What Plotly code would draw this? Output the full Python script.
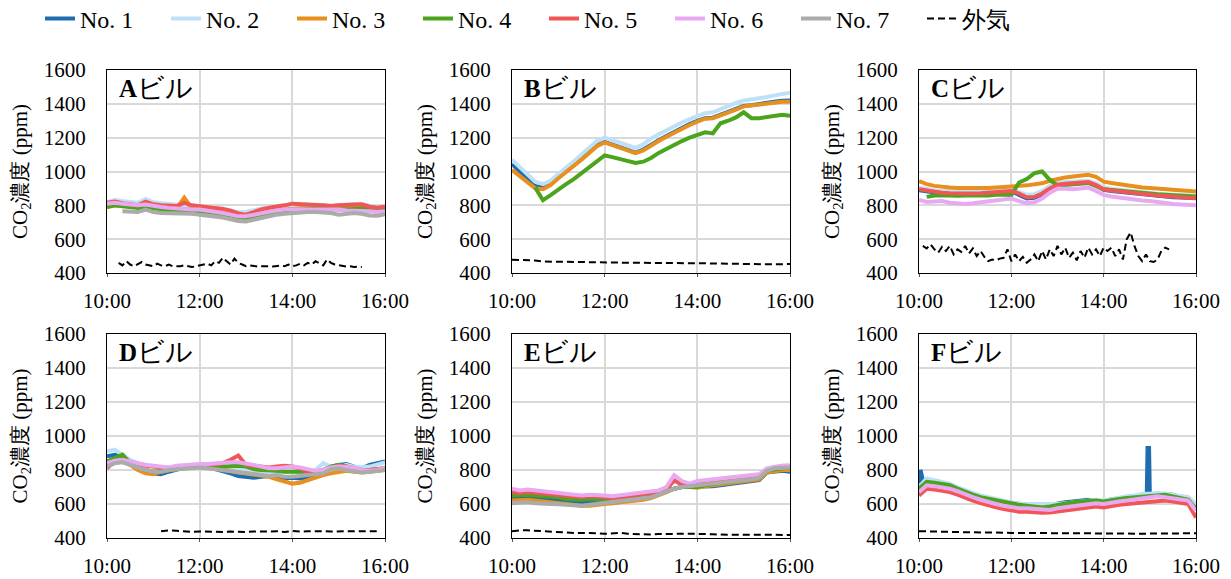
import plotly.graph_objects as go

# ---------------- categories / labels ----------------
PANELS = ["A", "B", "C", "D", "E", "F"]
SERIES = ["No. 1", "No. 2", "No. 3", "No. 4", "No. 5", "No. 6", "No. 7"]
OUTDOOR = "外気"
X_TICKS = ["10:00", "12:00", "14:00", "16:00"]
Y_TICKS = [400, 600, 800, 1000, 1200, 1400, 1600]
COLORS = ["#1f6db0", "#bfe1f7", "#e8901e", "#4aa51c", "#f05656", "#e9a8f2", "#ababab"]

# 10-minute time grid 10:00 .. 16:00 (37 points)
T10 = ["%d:%02d" % (10 + (i * 10) // 60, (i * 10) % 60) for i in range(37)]

# ---------------- Panel A ----------------
A_NO1 = [800, 805, 800, 795, 790, 800, 790, 785, 780, 780, 780, 778, 775, 770, 765, 758, 748, 738, 735, 742,
         752, 762, 768, 772, 778, 782, 782, 785, 785, 782, 782, 785, 790, 790, 785, 780, 785]
A_NO2 = [820, 832, 826, 820, 816, 838, 818, 812, 808, 804, 802, 798, 796, 790, 786, 780, 770, 760, 762, 772,
         782, 790, 795, 800, 805, 805, 805, 800, 800, 798, 802, 805, 808, 806, 795, 790, 792]
A_NO3 = [790, 800, 798, 792, 790, 795, 788, 785, 782, 780, 845, 782, 778, 772, 768, 762, 752, 742, 738, 745,
         755, 765, 770, 775, 780, 782, 782, 785, 785, 780, 790, 795, 785, 790, 780, 775, 780]
A_NO4 = [790, 800, 795, 790, 785, 790, 780, 775, 770, 770, 770, 770, 765, 760, 755, 750, 740, 730, 725, 735,
         745, 755, 760, 765, 770, 775, 775, 780, 780, 775, 775, 775, 780, 780, 775, 770, 775]
A_NO5 = [815, 822, 812, 806, 800, 822, 806, 800, 800, 796, 815, 800, 795, 790, 785, 778, 768, 752, 745, 762,
         776, 786, 792, 800, 810, 806, 806, 802, 800, 796, 800, 802, 808, 806, 792, 786, 792]
A_NO6 = [810, 815, 810, 805, 800, 805, 795, 790, 785, 780, 780, 775, 775, 770, 765, 755, 745, 735, 735, 745,
         755, 765, 770, 775, 775, 780, 780, 780, 780, 775, 775, 770, 770, 770, 765, 760, 765]
A_NO7 = [None, None, 765, 760, 760, 775, 760, 755, 755, 750, 750, 750, 745, 740, 735, 728, 718, 708, 705, 715,
         728, 738, 745, 750, 755, 755, 760, 760, 760, 755, 745, 750, 755, 750, 740, 738, 748]
A_OUT_START = "10:15"   # 5-minute readings
A_OUT = [460, 445, 470, 450, 440, 455, 465, 450, 445, 440, 455, 445, 440, 450, 440, 438, 440, 445, 440, 435,
         440, 445, 450, 455, 445, 470, 460, 490, 470, 450, 485, 460, 450, 440, 445, 440, 438, 440, 442, 440,
         438, 440, 445, 440, 450, 440, 445, 455, 445, 460, 450, 470, 455, 445, 480, 460, 450, 445, 440, 438,
         440, 436, 438, 435]

# ---------------- Panel B ----------------
B_NO1 = [1045, 1000, 955, 915, 905, 930, 965, 1000, 1040, 1078, 1118, 1155, 1175, 1160, 1145, 1130, 1112, 1130,
         1160, 1185, 1210, 1235, 1260, 1280, 1300, 1315, 1318, 1335, 1355, 1370, 1388, 1392, 1400, 1405, 1412,
         1418, 1420]
B_NO2 = [1070, 1025, 980, 940, 925, 945, 985, 1020, 1060, 1100, 1140, 1180, 1200, 1182, 1170, 1155, 1140, 1160,
         1195, 1220, 1245, 1270, 1290, 1310, 1330, 1345, 1350, 1370, 1390, 1405, 1420, 1425, 1435, 1440, 1450,
         1458, 1465]
B_NO3 = [1010, 975, 935, 900, 895, 920, 960, 995, 1030, 1070, 1110, 1150, 1172, 1155, 1140, 1125, 1108, 1125,
         1155, 1180, 1205, 1230, 1255, 1275, 1295, 1312, 1315, 1330, 1350, 1365, 1385, 1390, 1395, 1400, 1410,
         1412, 1412]
B_NO4 = [None, None, None, 905, 830, 860, 895, 925, 955, 990, 1025, 1060, 1095, 1085, 1075, 1062, 1050, 1058,
         1080, 1110, 1135, 1160, 1180, 1200, 1215, 1232, 1225, 1285, 1300, 1320, 1350, 1315, 1315, 1320, 1325,
         1335, 1330]
B_OUT = [478, 478, 476, 474, 468, 467, 466, 465, 464, 464, 463, 462, 462, 461, 461, 460, 460, 460, 459, 459,
         459, 458, 458, 458, 458, 457, 457, 456, 455, 455, 454, 453, 452, 451, 451, 452, 453]

# ---------------- Panel C ----------------
C_NO1 = [890, 882, 875, 870, 868, 866, 866, 866, 868, 872, 875, 880, 882, 862, 840, 845, 865, 895, 918, 925,
         930, 932, 935, 918, 892, 885, 880, 873, 868, 864, 860, 856, 852, 848, 846, 844, 842]
C_NO2 = [905, 895, 888, 884, 882, 880, 880, 880, 882, 885, 888, 892, 895, 880, 862, 865, 885, 915, 935, 938,
         940, 942, 945, 930, 905, 898, 892, 886, 880, 876, 872, 868, 865, 862, 860, 858, 856]
C_NO3 = [943, 925, 915, 908, 905, 903, 902, 900, 900, 902, 905, 910, 913, 915, 918, 922, 930, 945, 958, 965,
         970, 975, 980, 968, 940, 932, 925, 918, 910, 905, 902, 898, 895, 890, 888, 885, 882]
C_NO4 = [None, 850, 858, 860, 856, 856, 858, 858, 856, 858, 862, 864, 860, 935, 955, 990, 1000, 950, 918, 920,
         925, 928, 932, 915, 895, 890, 885, 880, 875, 872, 868, 865, 862, 860, 858, 855, 852]
C_NO5 = [895, 888, 880, 875, 872, 870, 870, 870, 872, 875, 878, 882, 885, 870, 848, 850, 870, 900, 922, 928,
         932, 935, 938, 920, 895, 888, 882, 876, 870, 866, 862, 858, 855, 850, 848, 845, 843]
C_NO6 = [832, 820, 822, 825, 815, 810, 808, 812, 818, 822, 828, 836, 840, 825, 812, 818, 840, 875, 900, 898,
         895, 900, 905, 885, 862, 852, 845, 838, 832, 828, 825, 818, 812, 808, 805, 802, 800]
C_OUT_START = "10:05"   # 5-minute readings
C_OUT = [560, 545, 570, 540, 520, 555, 530, 560, 510, 540, 525, 560, 515, 545, 500, 530, 495, 470, 480, 475,
         485, 490, 540, 470, 510, 470, 495, 460, 480, 510, 470, 530, 480, 540, 500, 560, 510, 550, 490, 520,
         475, 530, 490, 550, 510, 540, 500, 550, 530, 550, 500, 540, 480, 600, 640, 560, 500, 470, 510, 470,
         465, 480, 530, 550, 540]

# ---------------- Panel D ----------------
D_NO1 = [880, 890, 880, 840, 810, 790, 780, 775, 790, 805, 815, 820, 820, 815, 805, 795, 780, 765, 760, 755,
         760, 765, 760, 750, 755, 750, 755, 765, 800, 820, 830, 835, 820, 810, 830, 840, 850]
D_NO2 = [910, 920, 890, 860, 840, 830, 820, 815, 815, 820, 825, 825, 825, 825, 820, 815, 815, 810, 800, 790,
         790, 790, 790, 785, 785, 790, 795, 800, 840, 820, 815, 830, 820, 815, 820, 830, 845]
D_NO3 = [830, 850, 860, 830, 800, 780, 775, 790, 800, 805, 815, 820, 820, 815, 810, 800, 790, 785, 780, 775,
         770, 760, 745, 730, 720, 725, 740, 760, 770, 780, 790, 795, 790, 785, 790, 795, 800]
D_NO4 = [850, 870, 890, 840, 820, 800, 790, 795, 800, 810, 815, 820, 820, 820, 815, 820, 825, 825, 820, 805,
         800, 800, 795, 790, 790, 785, 785, 790, 800, 820, 830, 820, 805, 800, 800, 805, 810]
D_NO5 = [810, 850, 860, 845, 830, 825, 820, 815, 810, 815, 820, 830, 830, 830, 835, 840, 860, 885, 830, 825,
         820, 815, 820, 825, 820, 810, 790, 785, 790, 810, 825, 820, 810, 800, 800, 805, 810]
D_NO6 = [840, 855, 860, 850, 835, 830, 825, 820, 815, 825, 830, 835, 835, 835, 840, 845, 845, 845, 840, 830,
         820, 810, 810, 815, 820, 815, 805, 795, 800, 815, 820, 820, 815, 800, 795, 800, 810]
D_NO7 = [820, 840, 845, 830, 810, 800, 790, 790, 800, 805, 810, 815, 815, 810, 805, 800, 795, 790, 785, 775,
         770, 765, 770, 760, 760, 765, 770, 775, 780, 805, 810, 800, 790, 785, 790, 795, 800]
D_OUT_START = "11:10"   # 10-minute readings
D_OUT = [440, 445, 442, 438, 436, 438, 436, 435, 436, 438, 436, 435, 438, 436, 438, 440, 435, 442, 438, 440,
         442, 440, 438, 440, 438, 440, 440, 440, 440]

# ---------------- Panel E ----------------
E_NO1 = [635, 640, 645, 640, 635, 630, 625, 615, 610, 610, 615, 615, 610, 605, 615, 625, 630, 635, 640, 655,
         675, 690, 700, 700, 700, 705, 705, 710, 715, 720, 725, 730, 740, 785, 790, 795, 790]
E_NO2 = [675, 670, 675, 670, 665, 665, 660, 650, 645, 645, 650, 650, 645, 640, 645, 650, 655, 660, 665, 675,
         690, 735, 710, 705, 715, 725, 730, 735, 740, 745, 750, 755, 765, 805, 820, 825, 830]
E_NO3 = [620, 625, 625, 620, 615, 610, 600, 595, 590, 590, 590, 595, 595, 600, 605, 610, 615, 625, 635, 650,
         670, 690, 700, 700, 695, 705, 710, 715, 720, 725, 730, 735, 745, 785, 795, 800, 800]
E_NO4 = [650, 655, 655, 650, 648, 645, 640, 630, 625, 625, 630, 630, 625, 620, 625, 630, 635, 640, 645, 660,
         680, 690, 700, 700, 700, 710, 720, 725, 730, 735, 740, 745, 755, 795, 805, 810, 815]
E_NO5 = [670, 665, 670, 665, 660, 660, 655, 645, 640, 640, 645, 645, 640, 635, 640, 645, 650, 655, 660, 670,
         685, 740, 715, 705, 715, 725, 730, 735, 740, 745, 750, 755, 760, 800, 815, 820, 820]
E_NO6 = [690, 680, 685, 680, 675, 670, 665, 655, 650, 650, 655, 655, 650, 645, 650, 655, 660, 665, 670, 680,
         700, 770, 735, 720, 735, 740, 745, 745, 750, 755, 760, 765, 775, 810, 820, 825, 825]
E_NO7 = [605, 610, 610, 605, 605, 600, 598, 595, 590, 590, 595, 600, 605, 610, 615, 620, 625, 630, 640, 655,
         675, 690, 700, 705, 705, 715, 720, 725, 730, 735, 740, 745, 755, 795, 810, 815, 815]
E_OUT = [440, 445, 445, 442, 440, 438, 435, 432, 430, 430, 430, 428, 425, 428, 430, 425, 423, 422, 420, 423,
         425, 425, 425, 425, 425, 422, 422, 420, 420, 420, 420, 420, 418, 418, 418, 418, 418]

# ---------------- Panel F ----------------
F_NO1_T = ["10:00", "10:02", "10:05", "10:10", "10:20", "10:30", "10:40", "10:50", "11:00", "11:10", "11:20",
           "11:30", "11:40", "11:50", "12:00", "12:10", "12:20", "12:30", "12:40", "12:50", "13:00", "13:10",
           "13:20", "13:30", "13:40", "13:50", "14:00", "14:10", "14:20", "14:30", "14:40", "14:50", "14:56",
           "14:57", "14:59", "15:00", "15:10", "15:20", "15:30", "15:40", "15:50", "16:00"]
F_NO1 = [720, 800, 740, 740, 735, 725, 705, 685, 668, 652, 640, 628, 618, 610, 605, 600, 598, 595, 590, 595,
         605, 610, 615, 620, 625, 615, 615, 628, 632, 638, 642, 648, 650, 930, 930, 660, 658, 660, 655, 640,
         630, 570]
F_NO2 = [700, 750, 740, 730, 720, 700, 680, 665, 650, 640, 625, 615, 605, 600, 600, 600, 595, 595, 600, 605,
         610, 615, 620, 625, 620, 630, 640, 645, 650, 660, 660, 665, 660, 655, 650, 640, 600]
F_NO3 = [680, 720, 715, 710, 700, 685, 665, 650, 635, 620, 610, 600, 590, 585, 585, 580, 575, 575, 585, 595,
         600, 605, 610, 615, 610, 620, 625, 630, 635, 640, 645, 648, 648, 640, 630, 625, 565]
F_NO4 = [690, 730, 725, 720, 710, 690, 670, 655, 640, 630, 620, 610, 600, 595, 590, 585, 580, 585, 595, 605,
         610, 615, 620, 620, 615, 625, 630, 635, 640, 645, 650, 655, 655, 645, 635, 625, 570]
F_NO5 = [650, 690, 685, 680, 670, 655, 635, 620, 605, 590, 580, 570, 560, 555, 555, 550, 548, 550, 555, 560,
         570, 575, 580, 585, 580, 590, 595, 600, 605, 610, 615, 620, 620, 615, 605, 600, 520]
F_NO6 = [670, 710, 705, 700, 690, 675, 655, 640, 625, 610, 600, 590, 580, 575, 575, 570, 565, 565, 575, 580,
         590, 595, 600, 605, 600, 610, 615, 620, 625, 630, 635, 645, 640, 635, 625, 620, 560]
F_OUT = [440, 440, 438, 438, 436, 435, 435, 434, 432, 432, 432, 431, 430, 430, 430, 430, 429, 429, 428, 428,
         428, 428, 428, 428, 428, 427, 427, 426, 425, 425, 424, 424, 424, 425, 425, 426, 428]


# ---------------- helpers ----------------
def hrs(t):
    h, m = t.split(":")
    return int(h) + int(m) / 60.0


def times_from(start, step_min, n):
    s = hrs(start)
    return [s + i * step_min / 60.0 for i in range(n)]


X10 = [hrs(t) for t in T10]

# table built from the named arrays: panel -> list of (series index, x, y)
TABLE = {
    "A": [(0, X10, A_NO1), (1, X10, A_NO2), (2, X10, A_NO3), (3, X10, A_NO4), (4, X10, A_NO5),
          (5, X10, A_NO6), (6, X10, A_NO7), (7, times_from(A_OUT_START, 5, len(A_OUT)), A_OUT)],
    "B": [(0, X10, B_NO1), (1, X10, B_NO2), (2, X10, B_NO3), (3, X10, B_NO4), (7, X10, B_OUT)],
    "C": [(0, X10, C_NO1), (1, X10, C_NO2), (2, X10, C_NO3), (3, X10, C_NO4), (4, X10, C_NO5),
          (5, X10, C_NO6), (7, times_from(C_OUT_START, 5, len(C_OUT)), C_OUT)],
    "D": [(0, X10, D_NO1), (1, X10, D_NO2), (2, X10, D_NO3), (3, X10, D_NO4), (4, X10, D_NO5),
          (5, X10, D_NO6), (6, X10, D_NO7), (7, times_from(D_OUT_START, 10, len(D_OUT)), D_OUT)],
    "E": [(0, X10, E_NO1), (1, X10, E_NO2), (2, X10, E_NO3), (3, X10, E_NO4), (4, X10, E_NO5),
          (5, X10, E_NO6), (6, X10, E_NO7), (7, X10, E_OUT)],
    "F": [(0, [hrs(t) for t in F_NO1_T], F_NO1), (1, X10, F_NO2), (2, X10, F_NO3), (3, X10, F_NO4),
          (4, X10, F_NO5), (5, X10, F_NO6), (7, X10, F_OUT)],
}

W, H = 1231, 579
X_DOM = [(107, 385), (512, 790), (919, 1196)]
Y_DOM = [(70, 273), (334, 538)]

SERIF = "Liberation Serif"

fig = go.Figure()
layout = dict(
    width=W, height=H,
    margin=dict(l=0, r=0, t=0, b=0, autoexpand=False),
    paper_bgcolor="white", plot_bgcolor="white",
    font=dict(family=SERIF, color="black", size=20),
    showlegend=True,
    legend=dict(orientation="h", x=40 / W, y=1 - 19 / H, xanchor="left", yanchor="middle",
                font=dict(size=24, family=SERIF), entrywidth=81, entrywidthmode="pixels",
                itemwidth=30, bgcolor="rgba(0,0,0,0)", tracegroupgap=0),
    annotations=[],
)

for pi, p in enumerate(PANELS):
    r, c = divmod(pi, 3)
    n = pi + 1
    xa = "x" if n == 1 else "x%d" % n
    ya = "y" if n == 1 else "y%d" % n
    x0, x1 = X_DOM[c]
    y0, y1 = Y_DOM[r]
    layout["xaxis" if n == 1 else "xaxis%d" % n] = dict(
        domain=[x0 / W, x1 / W], anchor=ya, range=[10, 16],
        tickvals=[hrs(t) for t in X_TICKS], ticktext=X_TICKS,
        showgrid=True, gridcolor="#d9d9d9", gridwidth=1.5,
        showline=True, mirror=True, linecolor="black", linewidth=1,
        ticks="outside", ticklen=3, tickcolor="#555", tickfont=dict(size=21, family=SERIF),
        ticklabelstandoff=6, zeroline=False, fixedrange=True, automargin=False,
    )
    layout["yaxis" if n == 1 else "yaxis%d" % n] = dict(
        domain=[1 - y1 / H, 1 - y0 / H], anchor=xa, range=[400, 1600],
        tickvals=Y_TICKS, showgrid=True, gridcolor="#d9d9d9", gridwidth=1.5,
        showline=True, mirror=True, linecolor="black", linewidth=1,
        ticks="", tickfont=dict(size=21, family=SERIF), ticklabelstandoff=16,
        zeroline=False, fixedrange=True, automargin=False,
        title=dict(text="CO<sub>2</sub>濃度 (ppm)", font=dict(size=21, family=SERIF), standoff=10),
    )
    layout["annotations"].append(dict(
        xref=xa + " domain", yref=ya + " domain", x=10 / 278, y=1 - 18 / 203,
        xanchor="left", yanchor="middle", showarrow=False,
        text="<b><span style='font-size:25px'>%s</span></b><span style='font-size:27px'>ビル</span>" % p,
        font=dict(family=SERIF, color="black", size=26),
    ))
    for si, xs, ys in TABLE[p]:
        if si < 7:
            name = SERIES[si]
            line = dict(color=COLORS[si], width=4)
        else:
            name = OUTDOOR
            line = dict(color="black", width=2, dash="7px,4px")
        fig.add_trace(go.Scatter(
            x=xs, y=ys, mode="lines", name=name, line=line, xaxis=xa, yaxis=ya,
            legendgroup=name, showlegend=(p == "A"), connectgaps=False, hoverinfo="skip",
        ))

fig.update_layout(**layout)
fig.write_html("out.html")
